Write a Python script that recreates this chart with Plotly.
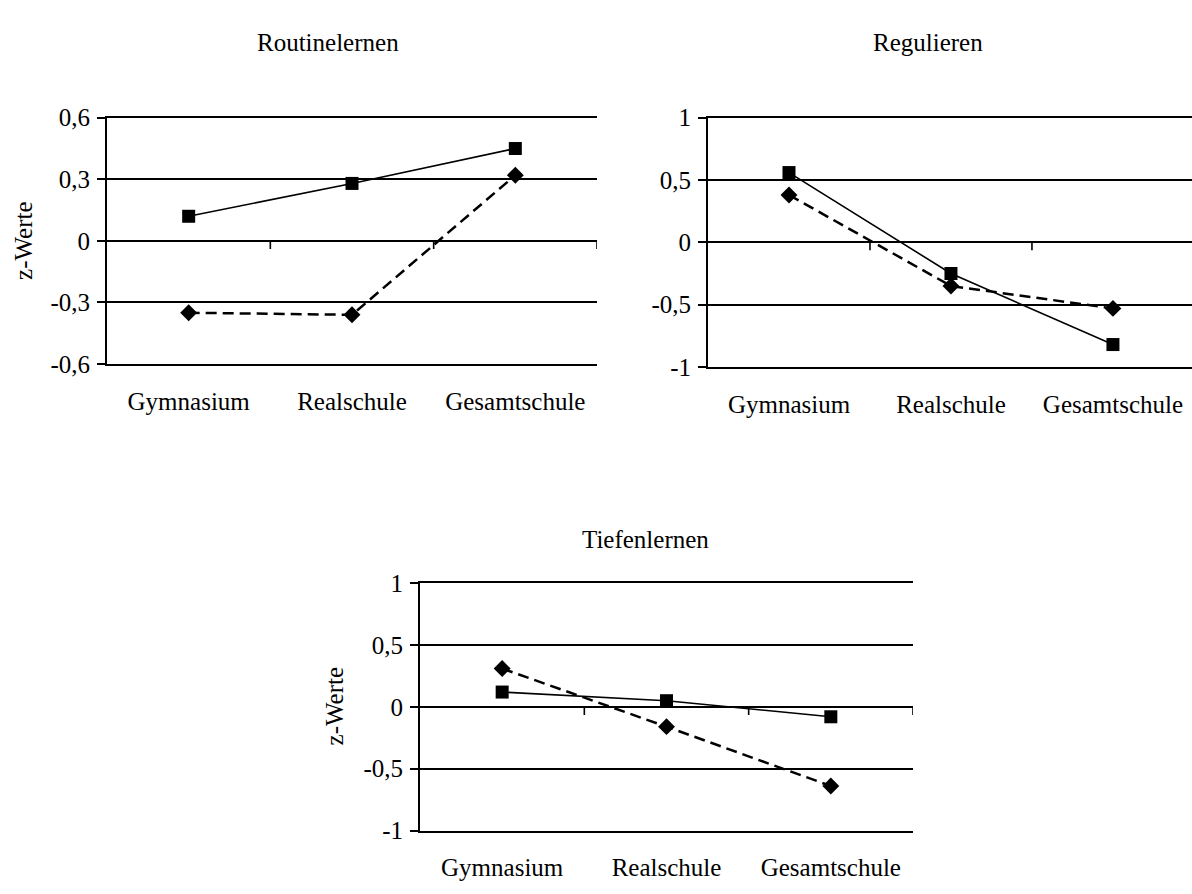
import plotly.graph_objects as go

# ---- data ----
categories = ["Gymnasium", "Realschule", "Gesamtschule"]

routine_square = [0.12, 0.28, 0.45]
routine_diamond = [-0.35, -0.36, 0.32]

regul_square = [0.56, -0.25, -0.82]
regul_diamond = [0.38, -0.35, -0.53]

tiefen_square = [0.12, 0.05, -0.08]
tiefen_diamond = [0.31, -0.16, -0.64]

titles = ["Routinelernen", "Regulieren", "Tiefenlernen"]
y_label = "z-Werte"

ticks_small = [-0.6, -0.3, 0, 0.3, 0.6]
ticktext_small = ["-0,6", "-0,3", "0", "0,3", "0,6"]
ticks_large = [-1, -0.5, 0, 0.5, 1]
ticktext_large = ["-1", "-0,5", "0", "0,5", "1"]

W, H = 1192, 894
FONT = "Liberation Serif"
FS = 25
LW = 1.6

fig = go.Figure()

panels = [
    dict(sq=routine_square, di=routine_diamond, xa="x", ya="y",
         xdom=(107, 597), ydom=(108, 362), tv=ticks_small, tt=ticktext_small,
         rng=(-0.6, 0.6), xr=(-0.5, 2.5)),
    dict(sq=regul_square, di=regul_diamond, xa="x2", ya="y2",
         xdom=(708, 1192), ydom=(108, 365), tv=ticks_large, tt=ticktext_large,
         rng=(-1, 1), xr=(-0.5, 2.488)),
    dict(sq=tiefen_square, di=tiefen_diamond, xa="x3", ya="y3",
         xdom=(420, 913), ydom=(588, 843), tv=ticks_large, tt=ticktext_large,
         rng=(-1, 1), xr=(-0.5, 2.5)),
]

for i, p in enumerate(panels):
    fig.add_trace(go.Scatter(
        x=categories, y=p["di"], xaxis=p["xa"], yaxis=p["ya"],
        mode="lines+markers",
        line=dict(color="black", width=2.5, dash="11px,6px"),
        marker=dict(symbol="diamond", size=13, color="black"),
        showlegend=False, hoverinfo="skip", cliponaxis=False))
    fig.add_trace(go.Scatter(
        x=categories, y=p["sq"], xaxis=p["xa"], yaxis=p["ya"],
        mode="lines+markers",
        line=dict(color="black", width=LW),
        marker=dict(symbol="square", size=13, color="black"),
        showlegend=False, hoverinfo="skip", cliponaxis=False))

    sfx = "" if i == 0 else str(i + 1)
    lo, hi = p["rng"]
    fig.update_layout(**{
        "xaxis" + sfx: dict(
            domain=[p["xdom"][0] / W, p["xdom"][1] / W],
            anchor="y" + sfx, type="category", range=list(p["xr"]),
            showgrid=False, zeroline=False,
            showline=True, mirror=True, linecolor="black", linewidth=LW,
            ticks="",
            tickfont=dict(family=FONT, size=FS, color="black"),
            ticklabelstandoff=14, fixedrange=True),
        "yaxis" + sfx: dict(
            domain=[1 - p["ydom"][1] / H, 1 - p["ydom"][0] / H],
            anchor="x" + sfx, range=[lo, hi],
            tickvals=p["tv"], ticktext=p["tt"],
            showgrid=True, gridcolor="black", gridwidth=LW,
            zeroline=True, zerolinecolor="black", zerolinewidth=LW,
            showline=True, linecolor="black", linewidth=2,
            ticks="outside", ticklen=8, tickwidth=LW, tickcolor="black",
            tickfont=dict(family=FONT, size=FS, color="black"),
            ticklabelstandoff=2, fixedrange=True),
    })
    # tick marks on the zero line at category boundaries
    for b in [0.5, 1.5, 2.5]:
        fig.add_shape(type="line", xref=p["xa"], yref=p["ya"],
                      ysizemode="pixel", yanchor=0, x0=b, x1=b, y0=0, y1=-8,
                      line=dict(color="black", width=LW))

annos = [
    dict(text=titles[0], x=328 / W, y=1 - 30 / H),
    dict(text=titles[1], x=928 / W, y=1 - 30 / H),
    dict(text=titles[2], x=645 / W, y=1 - 543 / H),
]
for a in annos:
    fig.add_annotation(xref="paper", yref="paper", showarrow=False,
                       xanchor="center", yanchor="middle",
                       font=dict(family=FONT, size=FS, color="black"), **a)
for (xc, yc) in [(24, 235), (334, 715)]:
    fig.add_annotation(text=y_label, xref="paper", yref="paper",
                       x=xc / W, y=1 - yc / H, showarrow=False, textangle=-90,
                       xanchor="center", yanchor="middle",
                       font=dict(family=FONT, size=FS, color="black"))

fig.update_layout(
    width=W, height=H, margin=dict(l=0, r=0, t=0, b=0),
    paper_bgcolor="white", plot_bgcolor="white",
    separators=",.", showlegend=False,
)

fig.write_html(
    "out.html",
    config={"displayModeBar": False},
    post_script="document.body.style.margin='0px';"
                "document.body.style.overflow='hidden';",
)
